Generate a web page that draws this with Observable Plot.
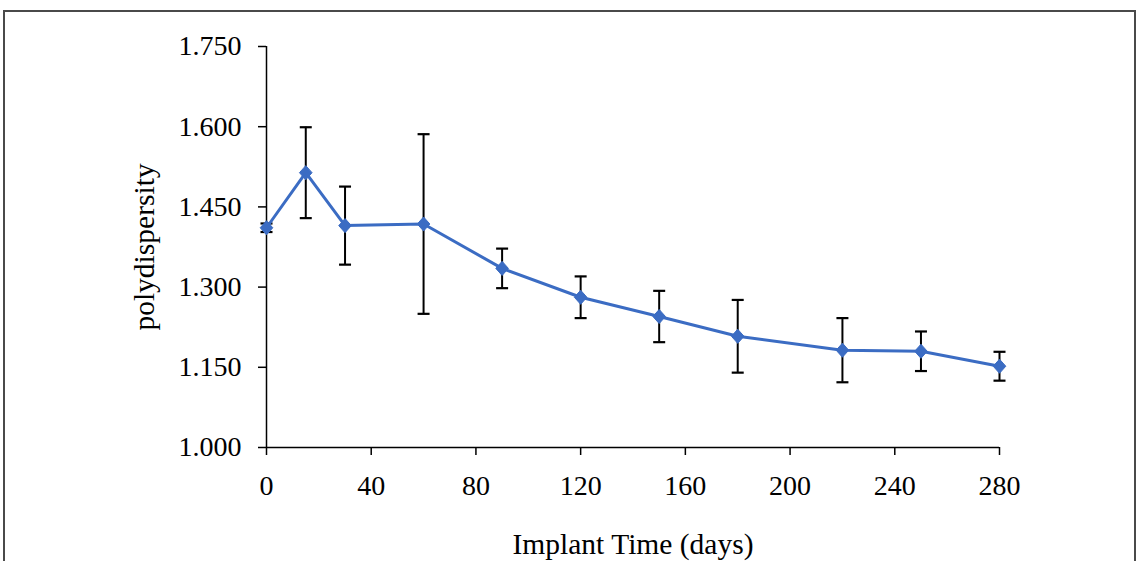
<!DOCTYPE html>
<html>
<head>
<meta charset="utf-8">
<script src="https://cdn.jsdelivr.net/npm/d3@7"></script>
<script src="https://cdn.jsdelivr.net/npm/@observablehq/plot@0.6"></script>
<style>
  html, body { margin: 0; padding: 0; background: #fff; }
  #wrap { position: relative; width: 1136px; height: 561px; overflow: hidden; background: #fff; }
  #frame { position: absolute; left: 3px; top: 10px; width: 1129px; height: 600px;
           border: 2px solid #4a4a4a; border-bottom: none; }
  #chart { position: absolute; left: 0; top: 0; }
</style>
</head>
<body>
<div id="wrap"><div id="frame"></div><div id="chart"></div></div>
<script>
// Data
const days = [0, 15, 30, 60, 90, 120, 150, 180, 220, 250, 280];
const polydispersity = [1.411, 1.514, 1.415, 1.418, 1.335, 1.281, 1.245, 1.208, 1.182, 1.180, 1.152];
const errorSD = [0.008, 0.085, 0.073, 0.168, 0.037, 0.039, 0.048, 0.068, 0.060, 0.037, 0.027];
const xTicks = [0, 40, 80, 120, 160, 200, 240, 280];
const yTicks = [1.000, 1.150, 1.300, 1.450, 1.600, 1.750];
const xTitle = "Implant Time (days)";
const yTitle = "polydispersity";

const data = days.map((d, i) => ({
  day: d,
  pd: polydispersity[i],
  lo: polydispersity[i] - errorSD[i],
  hi: polydispersity[i] + errorSD[i]
}));

const capSymbol = {
  draw(context, size) {
    const r = Math.sqrt(size / Math.PI);
    context.moveTo(-r, 0);
    context.lineTo(r, 0);
  }
};
const diamondSymbol = {
  draw(context, size) {
    const r = Math.sqrt(size / Math.PI);
    const h = r * 1.12;
    context.moveTo(0, -h);
    context.lineTo(r, 0);
    context.lineTo(0, h);
    context.lineTo(-r, 0);
    context.closePath();
  }
};

const blue = "#3B6CC3";
const serif = "'Liberation Serif', 'Times New Roman', serif";

const chart = Plot.plot({
  width: 1136,
  height: 561,
  marginLeft: 266,
  marginRight: 137,
  marginTop: 46,
  marginBottom: 114,
  style: { fontFamily: serif, fontSize: "28px", background: "transparent", color: "#000" },
  x: { domain: [0, 280] },
  y: { domain: [1.0, 1.75] },
  marks: [
    Plot.axisX({ ticks: xTicks, tickSize: 8, tickPadding: 20, strokeWidth: 1.5, label: null }),
    Plot.axisY({ ticks: yTicks, tickFormat: d3.format(".3f"), tickSize: 8, tickPadding: 17, strokeWidth: 1.5, label: null }),
    Plot.text([xTitle], { frameAnchor: "bottom", text: d => d, dy: 97, lineAnchor: "middle", textAnchor: "middle", fontSize: 29.5 }),
    Plot.text([yTitle], { frameAnchor: "left", text: d => d, dx: -122, rotate: -90, lineAnchor: "middle", textAnchor: "middle", fontSize: 29.5 }),
    Plot.ruleX([0], { stroke: "#000", strokeWidth: 1.5 }),
    Plot.ruleY([1.0], { stroke: "#000", strokeWidth: 1.5 }),
    Plot.ruleX(data, { x: "day", y1: "lo", y2: "hi", stroke: "#000", strokeWidth: 2 }),
    Plot.dot(data, { x: "day", y: "lo", symbol: capSymbol, r: 6, stroke: "#000", strokeWidth: 2.2 }),
    Plot.dot(data, { x: "day", y: "hi", symbol: capSymbol, r: 6, stroke: "#000", strokeWidth: 2.2 }),
    Plot.line(data, { x: "day", y: "pd", stroke: blue, strokeWidth: 3 }),
    Plot.dot(data, { x: "day", y: "pd", symbol: diamondSymbol, r: 6.3, fill: blue, stroke: blue, strokeWidth: 1 })
  ]
});
document.getElementById("chart").appendChild(chart);
</script>
</body>
</html>
